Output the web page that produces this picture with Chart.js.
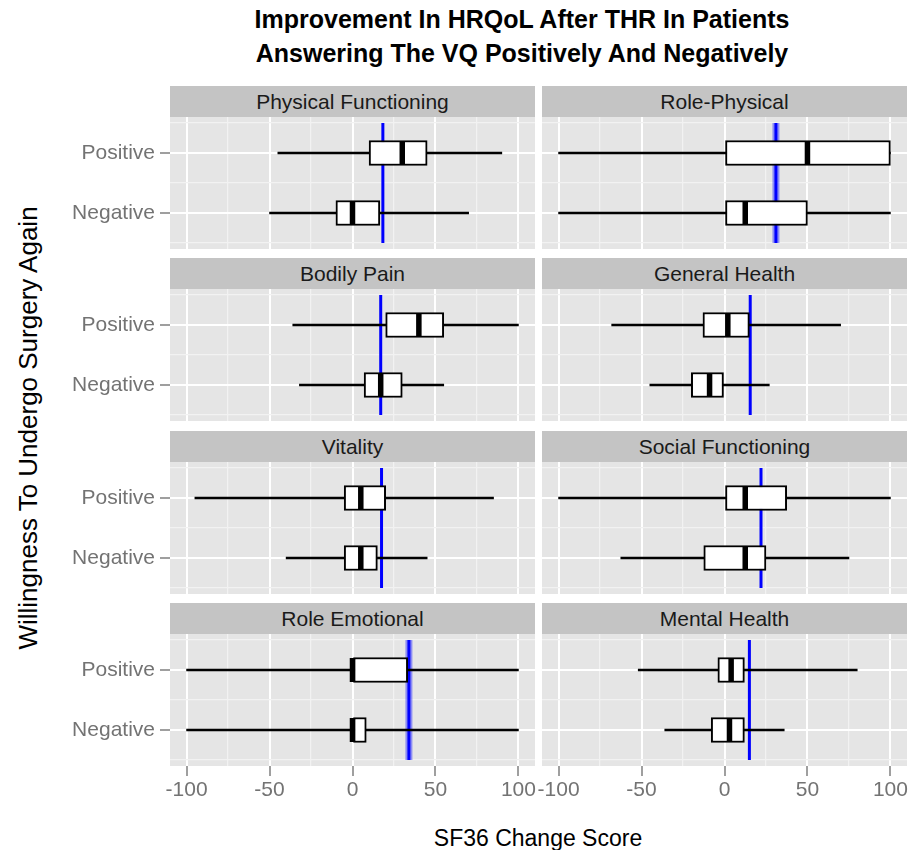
<!DOCTYPE html>
<html><head><meta charset="utf-8">
<script src="https://cdn.jsdelivr.net/npm/chart.js@4.4.0/dist/chart.umd.min.js"></script>
<style>
body{margin:0;background:#fff;width:911px;height:850px;overflow:hidden;position:relative;font-family:"Liberation Sans",Arial,sans-serif;}
canvas{position:absolute;left:0;top:0;}
.strip{position:absolute;background:#c4c4c4;color:#1a1a1a;font-size:21px;text-align:center;line-height:31px;height:31px;}
#title{position:absolute;left:172px;width:700px;top:2px;text-align:center;font-weight:bold;font-size:25px;line-height:34px;color:#000;}
#xtitle{position:absolute;left:338px;width:400px;top:825px;text-align:center;font-size:23px;color:#000;}
#ytitle{position:absolute;left:28px;top:428px;width:600px;margin-left:-300px;margin-top:-15px;text-align:center;font-size:26px;line-height:30px;transform:rotate(-90deg);color:#000;}
</style></head><body>
<div id="title">Improvement In HRQoL After THR In Patients<br>Answering The VQ Positively And Negatively</div>
<div id="xtitle">SF36 Change Score</div>
<div id="ytitle">Willingness To Undergo Surgery Again</div>
<script>
// ---- data ----
const panels = ['Physical Functioning','Role-Physical','Bodily Pain','General Health','Vitality','Social Functioning','Role Emotional','Mental Health'];
const groups = ['Negative','Positive'];
// five-number summaries [min, q1, median, q3, max]
const positiveStats = [
  [-45, 10, 30, 45, 90],
  [-100, 0, 50, 100, 100],
  [-36, 20, 40, 55, 100],
  [-68, -13, 2, 15, 70],
  [-95, -5, 5, 20, 85],
  [-100, 0, 12.5, 37.5, 100],
  [-100, 0, 0, 33.3, 100],
  [-52, -4, 4, 12, 80]
];
const negativeStats = [
  [-50, -10, 0, 16.5, 70],
  [-100, 0, 12.5, 50, 100],
  [-32, 7, 17, 30, 55],
  [-45, -20, -9, 0, 27],
  [-40, -5, 5, 15, 45],
  [-62.5, -12.5, 12.5, 25, 75],
  [-100, 0, 0, 8.3, 100],
  [-36, -8, 3, 12, 36]
];
const meanLines = [18.3, 31, 17, 15.5, 17.5, 22, 34, 15];
const xTickLabels = [-100, -50, 0, 50, 100];
const xMinorGrid = [-75, -25, 25, 75];

// ---- style / layout ----
const meanHalo = [false, true, false, false, false, false, true, false];
const colLeft = [170, 542], colRight = [535, 907];
const stripTop = [86, 258, 431, 603];
const stripH = 31, panelH = 132;
const W = 911, H = 850;

const bgPlugin = {
  id: 'panelBg',
  beforeDraw(chart) {
    const a = chart.chartArea, c = chart.ctx;
    c.save(); c.fillStyle = '#e5e5e5'; c.fillRect(a.left, a.top, a.right - a.left, a.bottom - a.top); c.restore();
  }
};

panels.forEach((name, i) => {
  const col = i % 2, row = Math.floor(i / 2);
  const L = colLeft[col], R = colRight[col], T = stripTop[row] + stripH, B = T + panelH;
  const s = document.createElement('div');
  s.className = 'strip';
  s.style.left = L + 'px'; s.style.top = stripTop[row] + 'px'; s.style.width = (R - L) + 'px';
  s.textContent = name;
  document.body.appendChild(s);

  const cv = document.createElement('canvas');
  cv.width = W; cv.height = H;
  document.body.appendChild(cv);
  const showX = row === 3, showY = col === 0;
  const p = positiveStats[i], n = negativeStats[i];
  const posY = groups.indexOf('Positive') + 1, negY = groups.indexOf('Negative') + 1;
  const xGrid = xTickLabels.concat(xMinorGrid).sort((a, b) => a - b);
  const isMajorX = v => xTickLabels.includes(v);
  const isMajorY = v => Number.isInteger(v);
  const meanPts = [{x: meanLines[i], y: 0.5}, {x: meanLines[i], y: 2.5}];

  const datasets = [
    { type: 'line', data: meanPts, borderColor: '#0000ff', borderWidth: 3, pointRadius: 0, fill: false, order: 4 },
    { type: 'bar', indexAxis: 'y', grouped: false, data: [{y: posY, x: [p[0], p[4]]}, {y: negY, x: [n[0], n[4]]}], backgroundColor: '#000', borderWidth: 0, barThickness: 2, order: 3 },
    { type: 'bar', indexAxis: 'y', grouped: false, data: [{y: posY, x: [p[1], p[3]]}, {y: negY, x: [n[1], n[3]]}], backgroundColor: '#fff', borderColor: '#000', borderWidth: 2, borderSkipped: false, barThickness: 25, order: 2 },
    { type: 'scatter', data: [{x: p[2], y: posY}, {x: n[2], y: negY}], pointStyle: 'line', pointRadius: 12, pointRotation: 90, pointBorderWidth: 5.5, pointBorderColor: '#000', pointBackgroundColor: '#000', order: 1 }
  ];
  if (meanHalo[i]) {
    datasets.unshift({ type: 'line', data: meanPts, borderColor: 'rgba(70,70,255,0.55)', borderWidth: 7, pointRadius: 0, fill: false, order: 5 });
  }

  new Chart(cv, {
    type: 'scatter',
    data: { datasets },
    options: {
      responsive: false, animation: false, events: [],
      layout: { autoPadding: false, padding: { left: showY ? 0 : L, top: T, right: W - R, bottom: showX ? 0 : H - B } },
      plugins: { legend: { display: false }, tooltip: { enabled: false }, title: { display: false } },
      scales: {
        x: {
          type: 'linear', axis: 'x', position: 'bottom', min: -110, max: 110, offset: false,
          afterBuildTicks: sc => { sc.ticks = xGrid.map(v => ({ value: v })); },
          afterFit: sc => { sc.height = showX ? H - B : 0; sc.paddingLeft = 0; sc.paddingRight = 0; },
          border: { display: false },
          grid: {
            offset: false,
            color: ctx => (ctx.tick && isMajorX(ctx.tick.value)) ? '#ffffff' : '#f2f2f2',
            lineWidth: ctx => (ctx.tick && isMajorX(ctx.tick.value)) ? 2 : 1.2,
            drawTicks: showX, tickLength: 10, tickWidth: 1.5,
            tickColor: ctx => (ctx.tick && isMajorX(ctx.tick.value)) ? '#7f7f7f' : 'rgba(0,0,0,0)'
          },
          ticks: {
            display: showX, autoSkip: false, maxRotation: 0, minRotation: 0, padding: 2,
            color: '#737373', font: { family: '"Liberation Sans", Arial, sans-serif', size: 21 },
            callback: v => isMajorX(v) ? String(v) : ''
          }
        },
        y: {
          type: 'linear', axis: 'y', position: 'left', min: 0.4, max: 2.6, offset: false,
          afterBuildTicks: sc => { sc.ticks = [0.5, 1, 1.5, 2, 2.5].map(v => ({ value: v })); },
          afterFit: sc => { sc.width = showY ? L : 0; sc.paddingTop = 0; sc.paddingBottom = 0; },
          border: { display: false },
          grid: {
            offset: false,
            color: ctx => (ctx.tick && isMajorY(ctx.tick.value)) ? '#ffffff' : '#f2f2f2',
            lineWidth: ctx => (ctx.tick && isMajorY(ctx.tick.value)) ? 2 : 1.2,
            drawTicks: showY, tickLength: 10, tickWidth: 1.5,
            tickColor: ctx => (ctx.tick && isMajorY(ctx.tick.value)) ? '#7f7f7f' : 'rgba(0,0,0,0)'
          },
          ticks: {
            display: showY, autoSkip: false, padding: 5,
            color: '#737373', font: { family: '"Liberation Sans", Arial, sans-serif', size: 21 },
            callback: v => isMajorY(v) ? groups[v - 1] : ''
          }
        }
      }
    },
    plugins: [bgPlugin]
  });
});
</script>
</body></html>
